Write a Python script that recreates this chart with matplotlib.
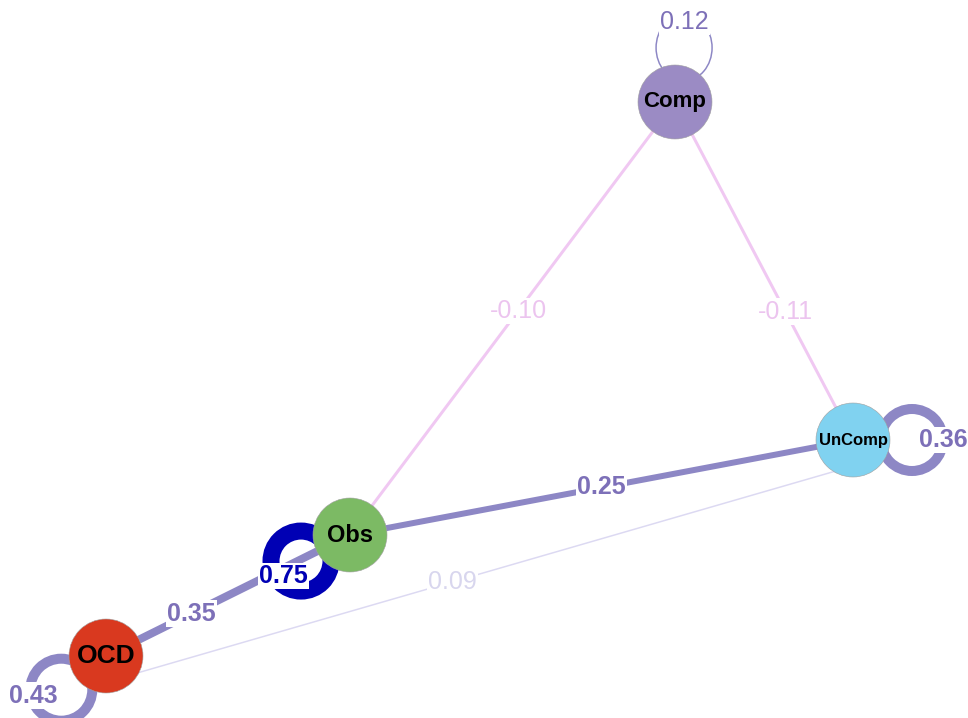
"""
Network plot of OCD symptom nodes (qgraph style), redrawn in matplotlib
"""
import numpy as np
import matplotlib.pyplot as plt
from matplotlib.patches import Circle, Ellipse

plt.rcParams['font.family'] = ['Liberation Sans', 'DejaVu Sans']

# Nodes (layout positions in pixel space, y down)
nodes = ['Comp', 'UnComp', 'Obs', 'OCD']
node_x = [675, 853, 350, 106]
node_y = [102, 440, 535, 656]
node_colors = ['#9B8BC4', '#80D2F0', '#7CBA64', '#D9391F']
node_fontsize = [16, 12, 17, 19]
node_radius = 37

# Edges between nodes
edge_from = ['Comp', 'Comp', 'Obs', 'OCD', 'OCD']
edge_to = ['Obs', 'UnComp', 'UnComp', 'Obs', 'UnComp']
edge_weight = [-0.10, -0.11, 0.25, 0.35, 0.09]
edge_colors = ['#F0C8F2', '#F0C8F2', '#8D87C5', '#8D87C5', '#DCD9F2']
label_colors = ['#ECC4EF', '#ECC4EF', '#7D70B8', '#7D70B8', '#D8D6EE']
edge_width = [3, 3, 6, 8, 1.5]
edge_shift = [0, 0, 0, 0, 25]
label_t = [0.483, 0.62, 0.5, 0.35, 0.455]
label_bold = [False, False, True, True, False]

# Self loops
loop_node = ['Comp', 'UnComp', 'Obs', 'OCD']
loop_weight = [0.12, 0.36, 0.75, 0.43]
loop_colors = ['#8D87C5', '#8D87C5', '#0000B4', '#8D87C5']
loop_label_colors = ['#7D70B8', '#7D70B8', '#0000B4', '#7D70B8']
loop_angle = [80.5, 0, 208, 217]
loop_dist = [55, 59, 55.5, 56]
loop_w = [56, 62, 60, 62]
loop_h = [66, 62, 60, 62]
loop_width = [1.5, 10, 17, 10]
loop_bold = [False, True, True, True]
loop_label_angle = [90, 0, 220, 192]
loop_label_dist = [26, 31, 23, 29]

px = 0.72  # pixel -> points at dpi 100

fig = plt.figure(figsize=(9.68, 7.18), dpi=100)
ax = fig.add_axes([0, 0, 1, 1])
ax.set_xlim(0, 968)
ax.set_ylim(718, 0)
ax.axis('off')

pos = {n: (x, y) for n, x, y in zip(nodes, node_x, node_y)}
bbox = dict(boxstyle='square,pad=0.05', fc='white', ec='none')


def unit(deg):
    a = np.deg2rad(deg)
    return np.array([np.cos(a), -np.sin(a)])


# edges
for i in range(len(edge_from)):
    x0, y0 = pos[edge_from[i]]
    x1, y1 = pos[edge_to[i]]
    d = np.array([x1 - x0, y1 - y0], dtype=float)
    d /= np.hypot(*d)
    perp = np.array([-d[1], d[0]])
    if perp[1] < 0:
        perp = -perp
    off = perp * edge_shift[i]
    xs = np.array([x0, x1]) + off[0]
    ys = np.array([y0, y1]) + off[1]
    ax.plot(xs, ys, color=edge_colors[i], lw=edge_width[i] * px,
            solid_capstyle='butt', zorder=1)
    t = label_t[i]
    lx = xs[0] + t * (xs[1] - xs[0])
    ly = ys[0] + t * (ys[1] - ys[0])
    ax.text(lx, ly, f'{edge_weight[i]:.2f}', color=label_colors[i], fontsize=18,
            fontweight='bold' if label_bold[i] else 'normal',
            ha='center', va='center', bbox=bbox, zorder=4)

# self loops
for i, n in enumerate(loop_node):
    x0, y0 = pos[n]
    c = np.array([x0, y0]) + loop_dist[i] * unit(loop_angle[i])
    ax.add_patch(Ellipse(c, loop_w[i], loop_h[i], fill=False, ec=loop_colors[i],
                         lw=loop_width[i] * px, zorder=2))
    lx, ly = c + loop_label_dist[i] * unit(loop_label_angle[i])
    ax.text(lx, ly, f'{loop_weight[i]:.2f}', color=loop_label_colors[i], fontsize=18,
            fontweight='bold' if loop_bold[i] else 'normal',
            ha='center', va='center', bbox=bbox, zorder=5)

# nodes
for n, x, y, c, fs in zip(nodes, node_x, node_y, node_colors, node_fontsize):
    ax.add_patch(Circle((x, y), node_radius, fc=c, ec='#A0A0A0', lw=0.4, zorder=3))
    ax.text(x, y, n, fontsize=fs, fontweight='bold', color='black',
            ha='center', va='center', zorder=6)

plt.savefig('out.png', dpi=100)
